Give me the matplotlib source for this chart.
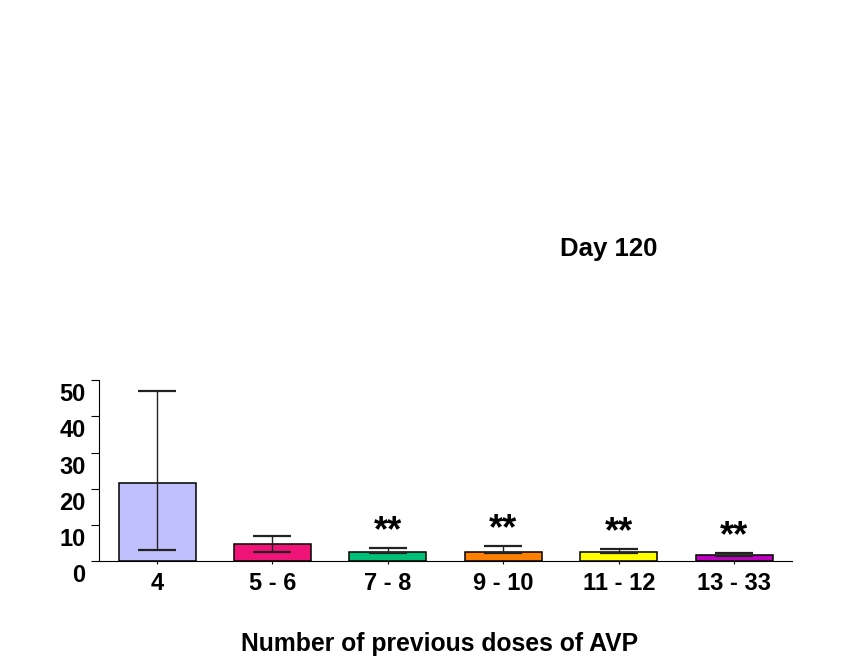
import matplotlib.pyplot as plt
import matplotlib.transforms as mtransforms

plt.rcParams['font.family'] = ['Liberation Sans', 'DejaVu Sans']
plt.rcParams['font.weight'] = 'bold'

# Group labels and bar values
groups = ["4", "5 - 6", "7 - 8", "9 - 10", "11 - 12", "13 - 33"]
means = [21.7, 4.75, 2.55, 2.45, 2.55, 1.8]
err_low = [18.6, 2.15, 0.2, 0.2, 0.35, 0.25]
err_high = [25.2, 2.15, 1.2, 1.85, 0.9, 0.4]
stars = ["", "", "**", "**", "**", "**"]
colors = ["#C0C0FF", "#F01478", "#00C078", "#FF8000", "#FFFF00", "#C000C0"]

fig = plt.figure(figsize=(8.54, 6.61), dpi=100)
ax = fig.add_axes([0.1163, 0.1508, 0.8110, 0.2743])

x = list(range(len(groups)))
ax.bar(x, means, width=0.667, color=colors, edgecolor="black", linewidth=1.1, zorder=2)
ax.errorbar(x, means, yerr=[err_low, err_high], fmt="none", ecolor="#222222",
            elinewidth=1.0, capsize=13.7, capthick=1.6, zorder=3)

# significance marks above the error bars
for xi, m, eh, s in zip(x, means, err_high, stars):
    if s:
        ax.annotate(s, xy=(xi, m + eh), xytext=(0, 5), textcoords="offset points",
                    ha="center", va="baseline", fontsize=26, fontweight="bold")

ax.set_xlim(-0.5, 5.5)
ax.set_ylim(0, 50)
ax.set_yticks([0, 10, 20, 30, 40, 50])
ax.set_xticks(x)
ax.set_xticklabels(groups)
ax.tick_params(axis="y", length=6, width=0.8, pad=4, labelsize=17)
ax.tick_params(axis="x", length=2, width=0.8, pad=6, labelsize=17)
for lab in ax.get_yticklabels() + ax.get_xticklabels():
    lab.set_fontweight("bold")

# y labels sit a little below their ticks
offset = mtransforms.ScaledTranslation(0, -0.12, fig.dpi_scale_trans)
for lab in ax.get_yticklabels():
    lab.set_transform(lab.get_transform() + offset)

for side in ["top", "right"]:
    ax.spines[side].set_visible(False)
ax.spines["left"].set_linewidth(0.8)
ax.spines["bottom"].set_linewidth(0.8)

fig.text(0.713, 0.623, "Day 120", ha="center", va="center", fontsize=18.5, fontweight="bold")
fig.text(0.515, 0.026, "Number of previous doses of AVP", ha="center", va="center",
         fontsize=17.8, fontweight="bold")

fig.savefig("out.png", dpi=100)
